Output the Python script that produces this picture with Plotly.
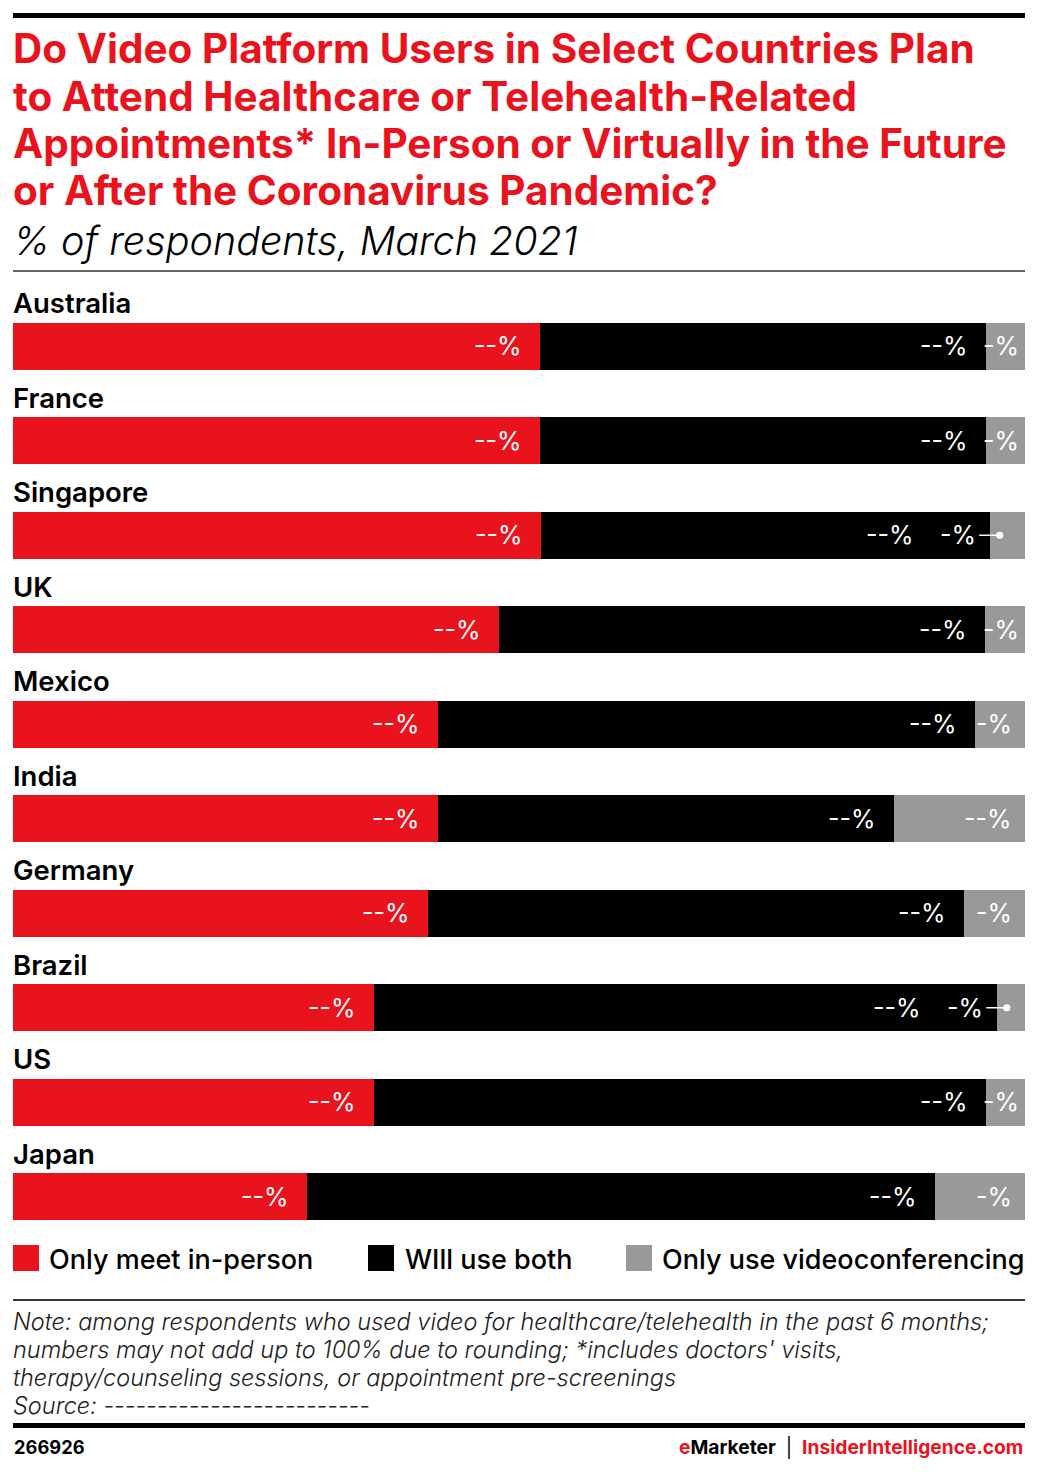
import plotly.graph_objects as go

countries = ["Australia", "France", "Singapore", "UK", "Mexico", "India",
             "Germany", "Brazil", "US", "Japan"]
only_in_person = [52.1, 52.1, 52.2, 48.0, 42.0, 42.0, 41.0, 35.7, 35.7, 29.1]
use_both = [44.0, 44.0, 44.3, 48.0, 53.1, 45.1, 53.0, 61.5, 60.4, 62.0]
only_video = [3.9, 3.9, 3.5, 4.0, 4.9, 12.9, 6.0, 2.8, 3.9, 8.9]
lbl_in_person = ["--%"] * 10
lbl_both = ["--%"] * 10
lbl_video = ["-%", "-%", "-%", "-%", "-%", "--%", "-%", "-%", "-%", "-%"]

series_names = ["Only meet in-person", "WIll use both", "Only use videoconferencing"]
RED = "#E8131D"
BLACK = "#000000"
GRAY = "#999999"
colors = [RED, BLACK, GRAY]

W, H = 1038, 1472
L, R = 13, 1025
T, B = 299, 1244
FONT = "Inter"


def pxx(p):
    return (p - L) / (R - L)


def pxy(p):
    return (B - p) / (B - T)


fig = go.Figure()
for name, vals, col in zip(series_names, [only_in_person, use_both, only_video], colors):
    fig.add_trace(go.Bar(
        y=countries, x=vals, orientation="h", name=name,
        marker=dict(color=col, line=dict(width=0)),
        showlegend=False, hoverinfo="skip",
    ))

ann = []
shapes = []
lab_font = dict(family=FONT, size=25, color="white")
for i, c in enumerate(countries):
    e1 = only_in_person[i]
    e2 = e1 + use_both[i]
    # country label
    ann.append(dict(x=0, y=c, xref="x", yref="y", text=c, showarrow=False,
                    xanchor="left", yanchor="middle", yshift=43, xshift=-2,
                    font=dict(family=FONT, size=27.5, color="black", weight=600)))
    ann.append(dict(x=e1, y=c, xref="x", yref="y", text=lbl_in_person[i], showarrow=False,
                    xanchor="right", xshift=-16, font=lab_font))
    callout = only_video[i] < 3.7
    if callout:
        ann.append(dict(x=e2, y=c, xref="x", yref="y", text=lbl_both[i], showarrow=False,
                        xanchor="right", xshift=-74, font=lab_font))
        ann.append(dict(x=e2 + 1.0, y=c, xref="x", yref="y", text=lbl_video[i],
                        showarrow=True, arrowhead=6, arrowsize=1.2, arrowwidth=1.5,
                        arrowcolor="white", ax=-42, ay=0, standoff=0, startstandoff=2,
                        font=lab_font))
    else:
        ann.append(dict(x=e2, y=c, xref="x", yref="y", text=lbl_both[i], showarrow=False,
                        xanchor="right", xshift=-16, font=lab_font))
        ann.append(dict(x=100, y=c, xref="x", yref="y", text=lbl_video[i], showarrow=False,
                        xanchor="right", xshift=(-11 if only_video[i] >= 4.5 else -4),
                        font=lab_font))

# Title
title_lines = ["Do Video Platform Users in Select Countries Plan",
               "to Attend Healthcare or Telehealth-Related",
               "Appointments* In-Person or Virtually in the Future",
               "or After the Coronavirus Pandemic?"]
for k, t in enumerate(title_lines):
    ann.append(dict(x=pxx(11), y=pxy(49 + 47.3 * k), xref="paper", yref="paper", text=t,
                    showarrow=False, xanchor="left", yanchor="middle",
                    font=dict(family=FONT, size=40.5, color=RED, weight=700)))
ann.append(dict(x=pxx(11), y=pxy(241), xref="paper", yref="paper",
                text="<i>% of respondents, March 2021</i>", showarrow=False,
                xanchor="left", yanchor="middle",
                font=dict(family=FONT, size=39.5, color="black", weight=300)))

# Legend
leg_sq = [(13, 48), (368, 404), (626, 661)]
for (sx, tx), name, col in zip(leg_sq, series_names, colors):
    shapes.append(dict(type="rect", xref="paper", yref="paper",
                       x0=pxx(sx), x1=pxx(sx + 26), y0=pxy(1271), y1=pxy(1245),
                       fillcolor=col, line=dict(width=0)))
    ann.append(dict(x=pxx(tx - 1), y=pxy(1259), xref="paper", yref="paper", text=name,
                    showarrow=False, xanchor="left", yanchor="middle",
                    font=dict(family=FONT, size=27, color="black", weight=500)))

# Notes
notes = ["Note: among respondents who used video for healthcare/telehealth in the past 6 months;",
         "numbers may not add up to 100% due to rounding; *includes doctors' visits,",
         "therapy/counseling sessions, or appointment pre-screenings",
         "Source: -------------------------"]
for k, t in enumerate(notes):
    ann.append(dict(x=pxx(11), y=pxy(1321 + 28 * k), xref="paper", yref="paper",
                    text="<i>" + t + "</i>", showarrow=False, xanchor="left", yanchor="middle",
                    font=dict(family=FONT, size=23.5, color="#222222", weight=300)))

# Footer
ann.append(dict(x=pxx(12), y=pxy(1447), xref="paper", yref="paper", text="266926",
                showarrow=False, xanchor="left", yanchor="middle",
                font=dict(family=FONT, size=18.3, color="black", weight=700)))
ann.append(dict(x=pxx(1025), y=pxy(1447), xref="paper", yref="paper",
                text=f"<span style='color:{RED}'>e</span>Marketer "
                     f"<span style='font-weight:400'> | </span> "
                     f"<span style='color:{RED}'>InsiderIntelligence.com</span>",
                showarrow=False, xanchor="right", yanchor="middle",
                font=dict(family=FONT, size=19.2, color="black", weight=700)))

# Rules
for y, w in [(15.5, 5), (271, 1.5), (1300, 2), (1425.5, 5)]:
    shapes.append(dict(type="line", xref="paper", yref="paper",
                       x0=pxx(13), x1=pxx(1025), y0=pxy(y), y1=pxy(y),
                       line=dict(color="black" if w > 2 else "#333333", width=w)))

n = len(countries)
fig.update_layout(
    width=W, height=H,
    margin=dict(l=L, r=W - R, t=T, b=H - B, pad=0),
    barmode="stack", bargap=0.5,
    plot_bgcolor="white", paper_bgcolor="white",
    xaxis=dict(range=[0, 100], autorange=False, visible=False, fixedrange=True),
    yaxis=dict(categoryorder="array", categoryarray=countries,
               range=[n - 0.5, -0.5], autorange=False,
               visible=False, fixedrange=True),
    annotations=ann, shapes=shapes,
    font=dict(family=FONT),
)

fig.write_html("out.html", config={"displayModeBar": False},
               post_script="document.body.style.margin='0';document.body.style.overflow='hidden';")
